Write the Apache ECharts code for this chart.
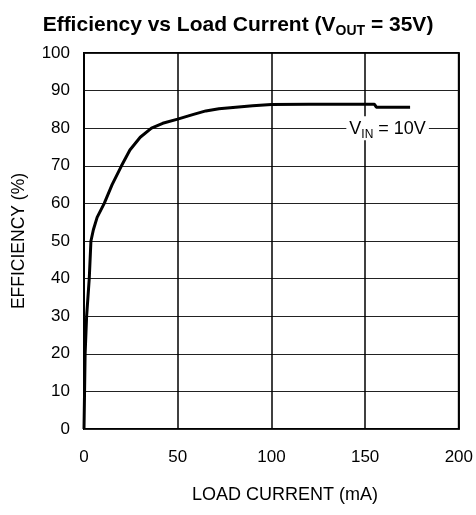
<!DOCTYPE html>
<html><head><meta charset="utf-8">
<script src="https://cdn.jsdelivr.net/npm/echarts@6/dist/echarts.min.js"></script>
<style>html,body{margin:0;padding:0;background:#fff}#c{width:476px;height:515px}</style>
</head><body><div id="c"></div>
<script>
const loadCurrent = [0, 0.3, 0.6, 1.4, 2.8, 3.7, 5, 7, 10.8, 15, 20, 24.5, 30, 36, 42, 50, 58, 65, 72, 81, 90, 96, 100, 120, 140, 155, 156, 165, 174];
const efficiency  = [0, 10, 20, 30, 40, 50, 53, 56.3, 60, 65, 70, 74.2, 77.6, 80, 81.3, 82.4, 83.6, 84.6, 85.2, 85.6, 86, 86.2, 86.3, 86.35, 86.35, 86.35, 85.6, 85.55, 85.55];
const xTicks = [0, 50, 100, 150, 200];
const yTicks = [0, 10, 20, 30, 40, 50, 60, 70, 80, 90, 100];
const seriesLabel = {coord: [162, 80], main: 'V', sub: 'IN', rest: ' = 10V'};

const font = 'Liberation Sans, Arial, sans-serif';
const chart = echarts.init(document.getElementById('c'));
chart.setOption({
  animation: false,
  title: {
    text: '{a|Efficiency vs Load Current (V}{s|OUT}{a| = 35V)}',
    left: 'center', top: 8, padding: [5, 0, 5, 9],
    textStyle: {
      rich: {
        a: {fontFamily: font, fontWeight: 'bold', fontSize: 21, color: '#000'},
        s: {fontFamily: font, fontWeight: 'bold', fontSize: 14, color: '#000', padding: [11, 0, 0, 0]}
      }
    }
  },
  grid: {left: 84, right: 17, top: 53, bottom: 86, show: true, borderColor: '#000', borderWidth: 2},
  xAxis: {
    type: 'value', min: xTicks[0], max: xTicks[xTicks.length - 1], interval: 50,
    name: 'LOAD CURRENT (mA)', nameLocation: 'middle', nameGap: 57,
    nameTextStyle: {fontFamily: font, fontSize: 18, color: '#000', padding: [0, 0, 0, 27]},
    axisLine: {show: false}, axisTick: {show: false},
    axisLabel: {fontFamily: font, fontSize: 17, color: '#000', margin: 20, formatter: v => xTicks.includes(v) ? String(v) : ''},
    splitLine: {show: true, lineStyle: {color: '#000', width: 1.5}}
  },
  yAxis: {
    type: 'value', min: yTicks[0], max: yTicks[yTicks.length - 1], interval: 10,
    name: 'EFFICIENCY (%)', nameLocation: 'middle', nameGap: 56,
    nameTextStyle: {fontFamily: font, fontSize: 17.5, color: '#000'},
    axisLine: {show: false}, axisTick: {show: false},
    axisLabel: {fontFamily: font, fontSize: 17, color: '#000', margin: 14, formatter: v => yTicks.includes(v) ? String(v) : ''},
    splitLine: {show: true, lineStyle: {color: '#222', width: 1.2}}
  },
  series: [{
    type: 'line', symbol: 'none', smooth: false,
    data: loadCurrent.map((x, i) => [x, efficiency[i]]),
    lineStyle: {color: '#000', width: 3},
    markPoint: {
      symbol: 'rect', symbolSize: 0,
      data: [{coord: seriesLabel.coord}],
      label: {
        show: true, position: 'inside',
        formatter: '{a|' + seriesLabel.main + '}{s|' + seriesLabel.sub + '}{a|' + seriesLabel.rest + '}',
        backgroundColor: '#fff', padding: [2, 3, 0, 3],
        rich: {
          a: {fontFamily: font, fontSize: 18, color: '#000'},
          s: {fontFamily: font, fontSize: 12, color: '#000', padding: [10, 0, 0, 0]}
        }
      }
    }
  }]
});
</script></body></html>
